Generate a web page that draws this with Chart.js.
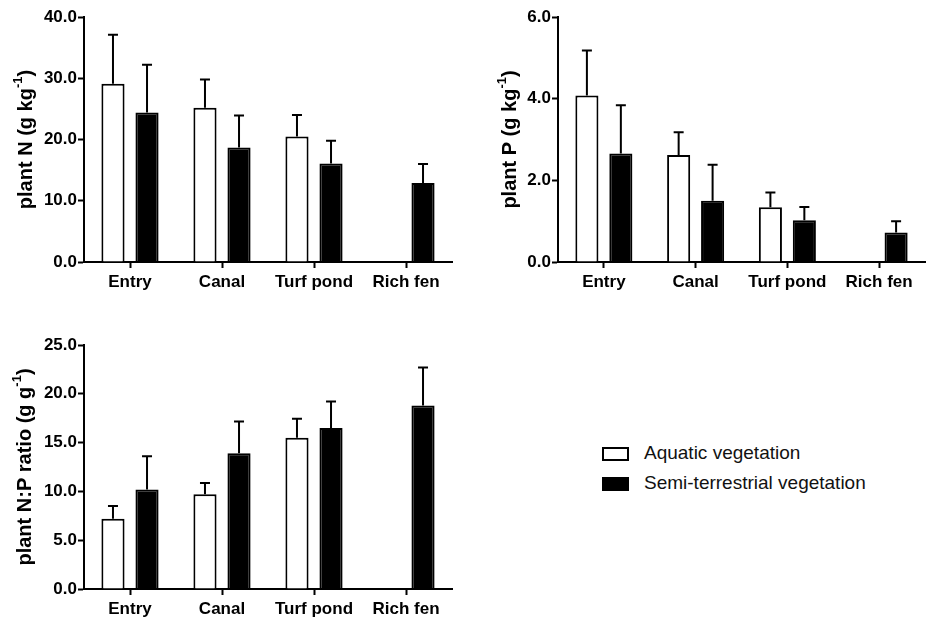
<!DOCTYPE html>
<html>
<head>
<meta charset="utf-8">
<title>Plant N and P by site</title>
<script src="https://cdn.jsdelivr.net/npm/chart.js@4.4.0/dist/chart.umd.min.js"></script>
<style>
  body {
    margin: 0;
    width: 928px;
    height: 618px;
    position: relative;
    overflow: hidden;
    background: #fff;
    font-family: "Liberation Sans", Arial, sans-serif;
  }
  canvas { position: absolute; }
  #cN { left: 0; top: 0; }
  #cP { left: 470px; top: 0; }
  #cNP { left: 0; top: 320px; }
  .key { position: absolute; left: 602px; font-size: 19px; color: #111; }
  .key span.box {
    position: absolute;
    left: 0;
    width: 27px;
    height: 14px;
    box-sizing: border-box;
    border: 2px solid #000;
  }
  .key span.txt { position: absolute; left: 42px; white-space: nowrap; }
</style>
</head>
<body>
<canvas id="cN" width="470" height="300"></canvas>
<canvas id="cP" width="458" height="300"></canvas>
<canvas id="cNP" width="470" height="298"></canvas>

<div class="key" style="top:447px">
  <span class="box" style="background:#fff"></span>
  <span class="txt" style="top:-5px">Aquatic vegetation</span>
</div>
<div class="key" style="top:477px">
  <span class="box" style="background:#000"></span>
  <span class="txt" style="top:-5px">Semi-terrestrial vegetation</span>
</div>

<script>
// --- DATA --- //
const sites = ["Entry", "Canal", "Turf pond", "Rich fen"];

// plant N (g/kg), mean and SD
const nAquatic = [29.1, 25.2, 20.5, null];
const nAquaticSd = [8.0, 4.6, 3.5, null];
const nSemi = [24.4, 18.7, 16.1, 12.9];
const nSemiSd = [7.8, 5.2, 3.7, 3.1];

// plant P (g/kg)
const pAquatic = [4.08, 2.62, 1.34, null];
const pAquaticSd = [1.1, 0.56, 0.36, null];
const pSemi = [2.66, 1.5, 1.02, 0.72];
const pSemiSd = [1.18, 0.88, 0.33, 0.28];

// N:P ratio (g/g)
const npAquatic = [7.2, 9.7, 15.5, null];
const npAquaticSd = [1.3, 1.15, 1.95, null];
const npSemi = [10.2, 13.9, 16.5, 18.8];
const npSemiSd = [3.4, 3.25, 2.7, 3.9];

const FONT = "'Liberation Sans', Arial, sans-serif";
Chart.defaults.color = "#000";
Chart.defaults.font.family = FONT;

// upward-only error bars with a short cap
const errorBars = {
  id: "errorBars",
  afterDatasetsDraw(chart) {
    const ctx = chart.ctx;
    const y = chart.scales.y;
    ctx.save();
    ctx.strokeStyle = "#000";
    ctx.lineWidth = 2;
    chart.data.datasets.forEach((ds, i) => {
      chart.getDatasetMeta(i).data.forEach((bar, j) => {
        const v = ds.data[j];
        if (v == null) return;
        const top = y.getPixelForValue(v + ds.errors[j]);
        ctx.beginPath();
        ctx.moveTo(bar.x, bar.y);
        ctx.lineTo(bar.x, top);
        ctx.moveTo(bar.x - 5, top);
        ctx.lineTo(bar.x + 5, top);
        ctx.stroke();
      });
    });
    ctx.restore();
  },
};

// rotated axis title with a superscript unit
const yTitle = {
  id: "yTitle",
  afterDraw(chart, args, opts) {
    const ctx = chart.ctx;
    const a = chart.chartArea;
    const big = "bold 20px " + FONT;
    const small = "bold 13px " + FONT;
    ctx.save();
    ctx.translate(opts.x, (a.top + a.bottom) / 2);
    ctx.rotate(-Math.PI / 2);
    ctx.fillStyle = "#000";
    ctx.font = big;
    const w1 = ctx.measureText(opts.text).width;
    const w3 = ctx.measureText(")").width;
    ctx.font = small;
    const w2 = ctx.measureText(opts.sup).width;
    let x = -(w1 + w2 + w3) / 2;
    const base = 7;
    ctx.font = big;
    ctx.fillText(opts.text, x, base);
    x += w1;
    ctx.font = small;
    ctx.fillText(opts.sup, x, base - 10);
    x += w2;
    ctx.font = big;
    ctx.fillText(")", x, base);
    ctx.restore();
  },
};

function makeChart(el, cfg) {
  return new Chart(document.getElementById(el), {
    type: "bar",
    data: {
      labels: sites,
      datasets: [
        {
          label: "Aquatic vegetation",
          data: cfg.aquatic,
          errors: cfg.aquaticSd,
          backgroundColor: "#fff",
          borderColor: "#000",
          borderWidth: 2,
        },
        {
          label: "Semi-terrestrial vegetation",
          data: cfg.semi,
          errors: cfg.semiSd,
          backgroundColor: "#000",
          borderColor: "#000",
          borderWidth: 2,
        },
      ],
    },
    options: {
      responsive: false,
      animation: false,
      events: [],
      barPercentage: 0.68,
      categoryPercentage: 0.74,
      layout: { padding: cfg.padding },
      plugins: {
        legend: { display: false },
        tooltip: { enabled: false },
        yTitle: { x: cfg.titleX, text: cfg.title, sup: "-1" },
      },
      scales: {
        x: {
          offset: true,
          grid: {
            offset: false,
            drawOnChartArea: false,
            tickLength: 6,
            tickColor: "#000",
            tickWidth: 2,
          },
          border: { color: "#000", width: 2 },
          ticks: {
            padding: 4,
            maxRotation: 0,
            font: { size: 17, weight: "bold" },
          },
          afterFit: (s) => { s.height = cfg.xHeight; },
        },
        y: {
          min: 0,
          max: cfg.max,
          grid: {
            drawOnChartArea: false,
            tickLength: 6,
            tickColor: "#000",
            tickWidth: 2,
          },
          border: { color: "#000", width: 2 },
          ticks: {
            stepSize: cfg.step,
            padding: 1,
            font: { size: 17, weight: "bold" },
            callback: (v) => v.toFixed(1),
          },
          afterFit: (s) => { s.width = cfg.yWidth; },
        },
      },
    },
    plugins: [errorBars, yTitle],
  });
}

makeChart("cN", {
  aquatic: nAquatic, aquaticSd: nAquaticSd, semi: nSemi, semiSd: nSemiSd,
  max: 40, step: 10, title: "plant N (g kg",
  titleX: 25, yWidth: 84, xHeight: 38,
  padding: { top: 17, right: 18, bottom: 0, left: 0 },
});

makeChart("cP", {
  aquatic: pAquatic, aquaticSd: pAquaticSd, semi: pSemi, semiSd: pSemiSd,
  max: 6, step: 2, title: "plant P (g kg",
  titleX: 39, yWidth: 88, xHeight: 38,
  padding: { top: 17, right: 3, bottom: 0, left: 0 },
});

makeChart("cNP", {
  aquatic: npAquatic, aquaticSd: npAquaticSd, semi: npSemi, semiSd: npSemiSd,
  max: 25, step: 5, title: "plant N:P ratio (g g",
  titleX: 24, yWidth: 84, xHeight: 29,
  padding: { top: 25, right: 18, bottom: 0, left: 0 },
});
</script>
</body>
</html>
